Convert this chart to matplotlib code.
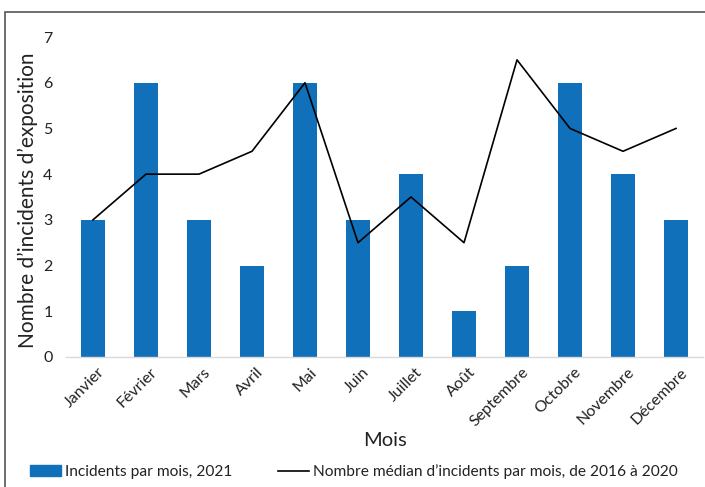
import matplotlib.pyplot as plt
from matplotlib.patches import Rectangle
from matplotlib.lines import Line2D
from matplotlib.transforms import ScaledTranslation

plt.rcParams['font.family'] = ['Lato', 'DejaVu Sans']

mois = ["Janvier", "Février", "Mars", "Avril", "Mai", "Juin", "Juillet",
        "Août", "Septembre", "Octobre", "Novembre", "Décembre"]
incidents_2021 = [3, 6, 3, 2, 6, 3, 4, 1, 2, 6, 4, 3]
mediane_2016_2020 = [3, 4, 4, 4.5, 6, 2.5, 3.5, 2.5, 6.5, 5, 4.5, 5]

bleu = "#1170ba"
gris_texte = "#222222"

fig = plt.figure(figsize=(7.05, 4.87), dpi=100)
ax = fig.add_axes([0.0943, 0.267, 0.9022, 0.657])

x = range(len(mois))
ax.bar(x, incidents_2021, width=0.46, color=bleu, zorder=2)
ax.plot(x, mediane_2016_2020, color="black", linewidth=1.2, zorder=3)

ax.set_xlim(-0.5, len(mois) - 0.5)
ax.set_ylim(0, 7)
ax.set_yticks(range(8))
ax.set_xticks(list(x))
ax.set_xticklabels(mois, rotation=45, ha="right", rotation_mode="anchor")
ax.tick_params(axis="both", length=0, labelsize=11.5, colors=gris_texte)
ax.tick_params(axis="x", pad=6)
ax.tick_params(axis="y", pad=10)

# nudge the slanted month names a little to the right
decalage = ScaledTranslation(3 / 72, 0, fig.dpi_scale_trans)
for lab in ax.get_xticklabels():
    lab.set_transform(lab.get_transform() + decalage)

for side in ("top", "right", "left"):
    ax.spines[side].set_visible(False)
ax.spines["bottom"].set_color("#d9d9d9")
ax.spines["bottom"].set_linewidth(1)

ax.set_xlabel("Mois", fontsize=14.5, labelpad=2, color=gris_texte)
ax.set_ylabel("Nombre d\u2019incidents d\u2019exposition", fontsize=15, color=gris_texte)
ax.yaxis.set_label_coords(-0.044, 0.49)

# legend along the bottom edge
handles = [Rectangle((0, 0), 1, 1, color=bleu),
           Line2D([0], [0], color="black", linewidth=1.2)]
labels = ["Incidents par mois, 2021",
          "Nombre médian d\u2019incidents par mois, de 2016 à 2020"]
leg = fig.legend(handles, labels, loc="center left", bbox_to_anchor=(0.034, 0.031),
                 ncol=2, frameon=False, fontsize=11.2, handlelength=2.0,
                 handletextpad=0.25, columnspacing=2.9, borderaxespad=0)
for t in leg.get_texts():
    t.set_color(gris_texte)

# outer frame of the chart area
fig.add_artist(Rectangle((0.007, -0.05), 1.1, 1.025, transform=fig.transFigure,
                         fill=False, edgecolor="#555555", linewidth=1.2))

fig.savefig("out.png", dpi=100)
